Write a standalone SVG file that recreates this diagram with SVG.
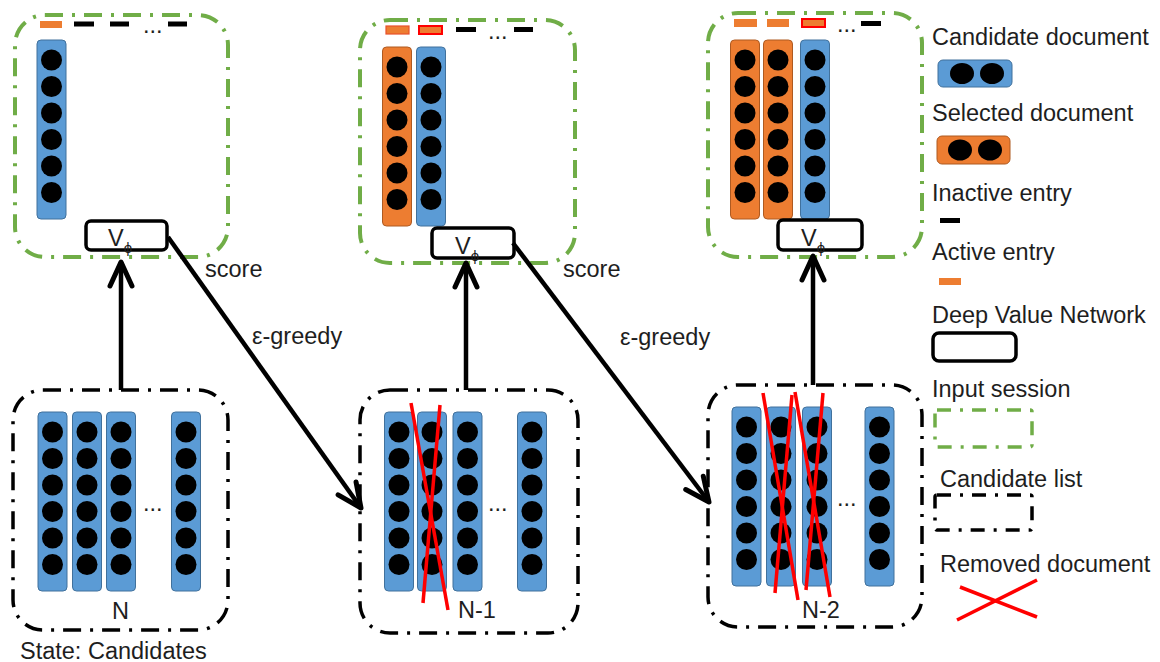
<svg xmlns="http://www.w3.org/2000/svg" xmlns:xlink="http://www.w3.org/1999/xlink" width="1160" height="662" viewBox="0 0 1160 662">
<defs>
<style>
text{font-family:"Liberation Sans",Arial,sans-serif;fill:#1e1e1e;font-size:23.5px}
.sub{font-size:15px}
.session{fill:none;stroke:#70ad47;stroke-width:4;stroke-dasharray:18 9 3 9}
.cand{fill:none;stroke:#000;stroke-width:3.5;stroke-dasharray:18 9 3 9}
.blue{fill:#5b9bd5;stroke:#41719c;stroke-width:1}
.orange{fill:#ed7d31;stroke:#ae5a21;stroke-width:1}
.dots circle{fill:#000}
.vbox{fill:#fff;stroke:#000;stroke-width:3.5}
.act{fill:#ed7d31}
.actr{fill:#ed7d31;stroke:#ff0000;stroke-width:2}
.inact{fill:#000}
.rm{stroke:#ff0000;stroke-width:3.5;fill:none}
.arrow{stroke:#000;stroke-width:4.5;fill:none;marker-end:url(#head)}
</style>
<marker id="head" markerUnits="userSpaceOnUse" viewBox="-28 -14 32 28" markerWidth="32" markerHeight="28" refX="0" refY="0" orient="auto">
<path d="M-24,-11 L0,0 L-24,11" fill="none" stroke="#000" stroke-width="5" stroke-linecap="round" stroke-linejoin="round"/>
</marker>
<g id="dots" class="dots">
<circle cx="0" cy="20" r="10.5"/><circle cx="0" cy="46.5" r="10.5"/><circle cx="0" cy="73" r="10.5"/><circle cx="0" cy="99.5" r="10.5"/><circle cx="0" cy="126" r="10.5"/><circle cx="0" cy="152.5" r="10.5"/>
</g>
<rect id="colB" class="blue" x="-14.5" y="0" width="29" height="179" rx="4"/>
<rect id="colO" class="orange" x="-14.5" y="0" width="29" height="179" rx="4"/>
</defs>

<!-- Top-left input session -->
<g id="session1">
<rect class="session" x="15" y="15" width="213" height="242" rx="30"/>
<rect class="act" x="40" y="21" width="22" height="7"/>
<rect class="inact" x="74" y="21.5" width="20" height="5"/>
<rect class="inact" x="110" y="21.5" width="19" height="5"/>
<rect class="inact" x="168" y="21.5" width="19" height="5"/>
<text x="143" y="33">...</text>
<g transform="translate(51.5,40)"><use xlink:href="#colB"/><use xlink:href="#dots"/></g>
</g>
<g id="vnet1">
<rect class="vbox" x="86" y="221" width="81" height="29" rx="5"/>
<text x="108" y="246">V<tspan class="sub" dy="7">ϕ</tspan></text>
</g>

<!-- Top-middle input session -->
<g id="session2">
<rect class="session" x="360" y="20" width="215" height="243" rx="30"/>
<rect class="actr" x="386" y="26" width="23" height="8" style="stroke:#e8502a;stroke-width:1.2"/>
<rect class="actr" x="419" y="26" width="23" height="8"/>
<rect class="inact" x="456" y="27" width="20" height="5"/>
<rect class="inact" x="514" y="27" width="19" height="5"/>
<text x="488" y="39">...</text>
<g transform="translate(397,47)"><use xlink:href="#colO"/><use xlink:href="#dots"/></g>
<g transform="translate(431,47)"><use xlink:href="#colB"/><use xlink:href="#dots"/></g>
</g>
<g id="vnet2">
<rect class="vbox" x="432" y="228" width="82" height="30" rx="5"/>
<text x="455" y="254">V<tspan class="sub" dy="7">ϕ</tspan></text>
</g>

<!-- Top-right input session -->
<g id="session3">
<rect class="session" x="708" y="13" width="214" height="244" rx="30"/>
<rect class="act" x="734" y="19" width="23" height="8"/>
<rect class="act" x="767" y="19" width="22" height="8"/>
<rect class="actr" x="802" y="19" width="23" height="8"/>
<rect class="inact" x="861" y="21" width="20" height="5"/>
<text x="837" y="32">...</text>
<g transform="translate(745,40)"><use xlink:href="#colO"/><use xlink:href="#dots"/></g>
<g transform="translate(778,40)"><use xlink:href="#colO"/><use xlink:href="#dots"/></g>
<g transform="translate(815,40)"><use xlink:href="#colB"/><use xlink:href="#dots"/></g>
</g>
<g id="vnet3">
<rect class="vbox" x="778" y="220" width="84" height="30" rx="5"/>
<text x="801" y="246">V<tspan class="sub" dy="7">ϕ</tspan></text>
</g>

<!-- Bottom-left candidate list -->
<g id="cands1">
<rect class="cand" x="13" y="390" width="215" height="240" rx="30"/>
<g transform="translate(52.5,412)"><use xlink:href="#colB"/><use xlink:href="#dots"/></g>
<g transform="translate(87,412)"><use xlink:href="#colB"/><use xlink:href="#dots"/></g>
<g transform="translate(121,412)"><use xlink:href="#colB"/><use xlink:href="#dots"/></g>
<g transform="translate(186,412)"><use xlink:href="#colB"/><use xlink:href="#dots"/></g>
<text x="143" y="511">...</text>
<text x="112" y="619">N</text>
<text x="20" y="659">State: Candidates</text>
</g>

<!-- Bottom-middle candidate list -->
<g id="cands2">
<rect class="cand" x="360" y="390" width="218" height="243" rx="30"/>
<g transform="translate(399,412)"><use xlink:href="#colB"/><use xlink:href="#dots"/></g>
<g transform="translate(432,412)"><use xlink:href="#colB"/><use xlink:href="#dots"/></g>
<g transform="translate(467.5,412)"><use xlink:href="#colB"/><use xlink:href="#dots"/></g>
<g transform="translate(532,412)"><use xlink:href="#colB"/><use xlink:href="#dots"/></g>
<text x="488" y="511">...</text>
<line class="rm" x1="411" y1="403" x2="448" y2="610"/>
<line class="rm" x1="440" y1="405" x2="423" y2="603"/>
<text x="458" y="618">N-1</text>
</g>

<!-- Bottom-right candidate list -->
<g id="cands3">
<rect class="cand" x="708" y="385" width="214" height="242" rx="30"/>
<g transform="translate(746.5,407)"><use xlink:href="#colB"/><use xlink:href="#dots"/></g>
<g transform="translate(781,407)"><use xlink:href="#colB"/><use xlink:href="#dots"/></g>
<g transform="translate(817,407)"><use xlink:href="#colB"/><use xlink:href="#dots"/></g>
<g transform="translate(879.5,407)"><use xlink:href="#colB"/><use xlink:href="#dots"/></g>
<text x="837" y="506">...</text>
<line class="rm" x1="763" y1="393" x2="798" y2="600"/>
<line class="rm" x1="792" y1="395" x2="775" y2="593"/>
<line class="rm" x1="795" y1="392" x2="830" y2="597"/>
<line class="rm" x1="823" y1="393" x2="806" y2="590"/>
<text x="802" y="618">N-2</text>
</g>

<!-- Connectors -->
<g id="connectors">
<line class="arrow" x1="121" y1="390" x2="121" y2="262"/>
<line class="arrow" x1="466" y1="390" x2="466" y2="263"/>
<line class="arrow" x1="813" y1="385" x2="813" y2="256"/>
<line class="arrow" x1="168" y1="237" x2="361" y2="508"/>
<line class="arrow" x1="513" y1="243" x2="709" y2="502"/>
<text x="205" y="277">score</text>
<text x="252" y="344">ε-greedy</text>
<text x="563" y="277">score</text>
<text x="620" y="345">ε-greedy</text>
</g>

<!-- Legend -->
<g id="legend">
<text x="932" y="45">Candidate document</text>
<rect class="blue" x="938" y="60" width="74" height="27" rx="5"/>
<ellipse cx="962" cy="73.5" rx="12" ry="10.5"/>
<ellipse cx="992" cy="73.5" rx="12" ry="10.5"/>
<text x="932" y="121">Selected document</text>
<rect class="orange" x="937" y="136" width="73" height="28" rx="5"/>
<ellipse cx="960" cy="150" rx="12" ry="10.5"/>
<ellipse cx="990" cy="150" rx="12" ry="10.5"/>
<text x="932" y="201">Inactive entry</text>
<rect class="inact" x="940" y="218" width="20" height="5"/>
<text x="932" y="260">Active entry</text>
<rect class="act" x="939" y="278" width="22" height="7"/>
<text x="932" y="323">Deep Value Network</text>
<rect class="vbox" x="933" y="333" width="83" height="28" rx="6"/>
<text x="932" y="397">Input session</text>
<rect class="session" x="935" y="410" width="97" height="37" rx="2" style="stroke-dasharray:14 9 3 9;stroke-width:3.5"/>
<text x="940" y="487">Candidate list</text>
<rect class="cand" x="935" y="495" width="97" height="35" rx="2" style="stroke-dasharray:14 9 3 9;stroke-width:3.5"/>
<text x="940" y="572">Removed document</text>
<line class="rm" x1="957" y1="620" x2="1037" y2="580"/>
<line class="rm" x1="960" y1="587" x2="1037" y2="617"/>
</g>
</svg>
